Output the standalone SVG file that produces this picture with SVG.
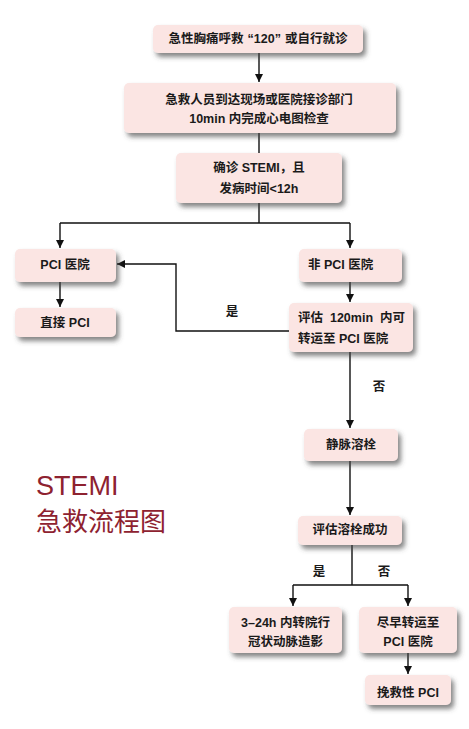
<svg xmlns="http://www.w3.org/2000/svg" width="469" height="729" viewBox="0 0 469 729">
<defs>
<style>
.box{fill:#FBE5E3;filter:url(#sh)}
.t{font-family:"Liberation Sans","Noto Sans CJK SC",sans-serif;font-size:12.5px;font-weight:bold;fill:#1a1a1a;white-space:pre}
.m{text-anchor:middle}
.c{fill:none;stroke:#111;stroke-width:1.4}
.title{font-family:"Liberation Sans","Noto Sans CJK SC",sans-serif;fill:#8E2230}
</style>
<filter id="sh" x="-20%" y="-30%" width="150%" height="180%">
<feDropShadow dx="3" dy="4" stdDeviation="2.5" flood-color="#444" flood-opacity="0.65"/>
</filter>
<marker id="ar" markerUnits="userSpaceOnUse" markerWidth="8" markerHeight="8" refX="8" refY="4" orient="auto">
<path d="M0,0 L8,4 L0,8 z" fill="#111"/>
</marker>
</defs>
<rect width="469" height="729" fill="#fff"/>

<g id="connectors">
<path class="c" d="M259,53 V82" marker-end="url(#ar)"/>
<path class="c" d="M259,133 V153"/>
<path class="c" d="M259,203 V223 M60,223 H350"/>
<path class="c" d="M60,223 V248" marker-end="url(#ar)"/>
<path class="c" d="M350,223 V248" marker-end="url(#ar)"/>
<path class="c" d="M60,282 V307" marker-end="url(#ar)"/>
<path class="c" d="M350,282 V302" marker-end="url(#ar)"/>
<path class="c" d="M289,331 H176 V264 H117" marker-end="url(#ar)"/>
<path class="c" d="M350,352 V428" marker-end="url(#ar)"/>
<path class="c" d="M350,461 V515" marker-end="url(#ar)"/>
<path class="c" d="M352,545 V585 M293,585 H408"/>
<path class="c" d="M293,585 V606" marker-end="url(#ar)"/>
<path class="c" d="M408,585 V606" marker-end="url(#ar)"/>
<path class="c" d="M408,653 V674" marker-end="url(#ar)"/>
<text class="t m" x="232" y="316">是</text>
<text class="t m" x="379" y="391">否</text>
<text class="t m" x="319" y="576">是</text>
<text class="t m" x="384" y="576">否</text>
</g>

<g id="n1"><rect class="box" x="153" y="25" width="210" height="28" rx="5"/>
<text class="t m" x="258" y="43">急性胸痛呼救<tspan dx="4">“120”</tspan><tspan dx="4">或自行就诊</tspan></text></g>

<g id="n2"><rect class="box" x="124" y="83" width="272" height="50" rx="5"/>
<text class="t m" x="259" y="104">急救人员到达现场或医院接诊部门</text>
<text class="t m" x="259" y="123">10min 内完成心电图检查</text></g>

<g id="n3"><rect class="box" x="176" y="153" width="166" height="50" rx="5"/>
<text class="t m" x="259" y="172">确诊 STEMI，且</text>
<text class="t m" x="259" y="193">发病时间&lt;12h</text></g>

<g id="n4"><rect class="box" x="15" y="249" width="101" height="33" rx="5"/>
<text class="t m" x="65" y="269">PCI 医院</text></g>

<g id="n5"><rect class="box" x="15" y="308" width="101" height="29" rx="5"/>
<text class="t m" x="65" y="327">直接 PCI</text></g>

<g id="n6"><rect class="box" x="299" y="249" width="103" height="33" rx="5"/>
<text class="t" x="308" y="269">非 PCI 医院</text></g>

<g id="n7"><rect class="box" x="289" y="303" width="124" height="49" rx="5"/>
<text class="t" x="298" y="322" xml:space="preserve">评估  120min  内可</text>
<text class="t" x="298" y="343">转运至 PCI 医院</text></g>

<g id="n8"><rect class="box" x="304" y="429" width="94" height="32" rx="5"/>
<text class="t m" x="351" y="449">静脉溶栓</text></g>

<g id="n9"><rect class="box" x="298" y="516" width="104" height="29" rx="5"/>
<text class="t m" x="350" y="534">评估溶栓成功</text></g>

<g id="n10"><rect class="box" x="229" y="607" width="113" height="46" rx="5"/>
<text class="t m" x="285.5" y="627">3–24h 内转院行</text>
<text class="t m" x="285.5" y="646">冠状动脉造影</text></g>

<g id="n11"><rect class="box" x="359" y="607" width="98" height="46" rx="5"/>
<text class="t m" x="408" y="627">尽早转运至</text>
<text class="t m" x="408" y="646">PCI 医院</text></g>

<g id="n12"><rect class="box" x="365" y="675" width="86" height="30" rx="5"/>
<text class="t m" x="408" y="697">挽救性 PCI</text></g>

<g id="title">
<text class="title" x="36" y="495" font-size="27">STEMI</text>
<text class="title" x="36" y="531" font-size="26">急救流程图</text>
</g>
</svg>
